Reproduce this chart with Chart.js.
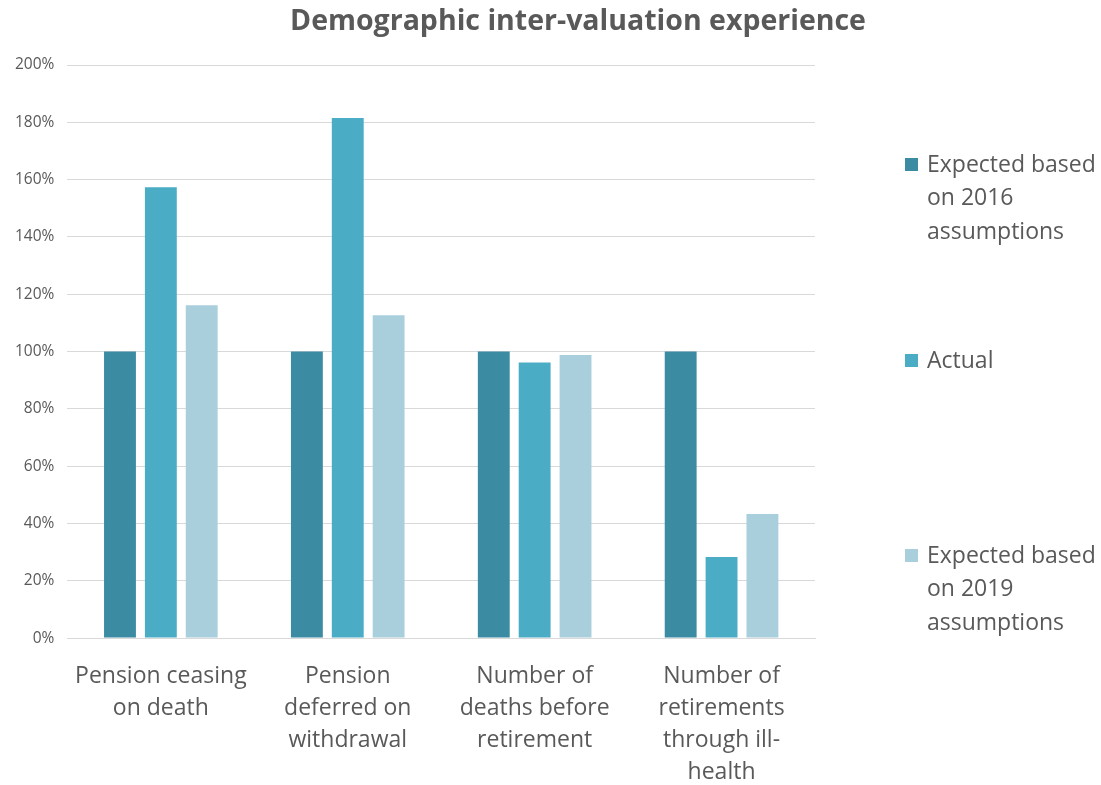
<!DOCTYPE html>
<html>
<head>
<meta charset="utf-8">
<script src="https://cdn.jsdelivr.net/npm/chart.js@4.4.1/dist/chart.umd.min.js"></script>
<style>
  html, body { margin: 0; padding: 0; background: #fff; }
  #wrap { width: 1101px; height: 785px; position: relative; }
</style>
</head>
<body>
<div id="wrap"><canvas id="grafico"></canvas></div>
<script>
// datos
const titulo = 'Demographic inter-valuation experience';
const categorias = [
    ['Pension ceasing', 'on death'],
    ['Pension', 'deferred on', 'withdrawal'],
    ['Number of', 'deaths before', 'retirement'],
    ['Number of', 'retirements', 'through ill-', 'health']
];
const esperado2016 = [100, 100, 100, 100];
const real = [157.3, 181.5, 96.2, 28.3];
const esperado2019 = [116.2, 112.7, 98.8, 43.3];

const nombresSeries = [
    ['Expected based', 'on 2016', 'assumptions'],
    ['Actual'],
    ['Expected based', 'on 2019', 'assumptions']
];

const ejeYMin = 0;
const ejeYMax = 200;
const ejeYPaso = 20;

const colores = ['#3b8ca3', '#4bacc6', '#a9cfdd'];
const gris = '#595959';
const fuente = "'Open Sans', 'Noto Sans', sans-serif";

// leyenda y titulo dibujados a mano (la leyenda de Excel va muy espaciada)
const leyendaYTitulo = {
    id: 'leyendaYTitulo',
    afterDraw(chart) {
        const ctx = chart.ctx;
        ctx.save();
        ctx.fillStyle = gris;
        ctx.font = 'bold 28.5px ' + fuente;
        ctx.textAlign = 'center';
        ctx.textBaseline = 'middle';
        ctx.fillText(titulo, 578, 22);

        const topes = [165, 361, 556];
        ctx.font = '23px ' + fuente;
        ctx.textAlign = 'left';
        chart.data.datasets.forEach((ds, i) => {
            const y0 = topes[i];
            ctx.fillStyle = ds.backgroundColor;
            ctx.fillRect(905, y0 - 7, 13, 13);
            ctx.fillStyle = gris;
            nombresSeries[i].forEach((linea, j) => {
                ctx.fillText(linea, 927, y0 + j * 33.5);
            });
        });
        ctx.restore();
    }
};

const ctx = document.getElementById('grafico').getContext('2d');

new Chart(ctx, {
    type: 'bar',
    data: {
        labels: categorias,
        datasets: [
            { label: nombresSeries[0].join(' '), data: esperado2016, backgroundColor: colores[0] },
            { label: nombresSeries[1].join(' '), data: real, backgroundColor: colores[1] },
            { label: nombresSeries[2].join(' '), data: esperado2019, backgroundColor: colores[2] }
        ]
    },
    options: {
        responsive: true,
        maintainAspectRatio: false,
        animation: false,
        datasets: {
            bar: { categoryPercentage: 0.656, barPercentage: 0.78 }
        },
        layout: {
            padding: { top: 65, right: 286, left: 2, bottom: -17 }
        },
        plugins: {
            legend: { display: false },
            title: { display: false },
            tooltip: { enabled: false }
        },
        scales: {
            x: {
                grid: { display: false },
                border: { color: '#d9d9d9' },
                ticks: {
                    color: gris,
                    font: { family: fuente, size: 23, lineHeight: 1.39 },
                    padding: 14,
                    maxRotation: 0,
                    autoSkip: false
                }
            },
            y: {
                min: ejeYMin,
                max: ejeYMax,
                grid: { color: '#d9d9d9', drawTicks: false },
                border: { display: false },
                ticks: {
                    stepSize: ejeYPaso,
                    color: gris,
                    font: { family: fuente, size: 15.5 },
                    padding: 13,
                    callback: v => v + '%'
                }
            }
        }
    },
    plugins: [leyendaYTitulo]
});
</script>
</body>
</html>
